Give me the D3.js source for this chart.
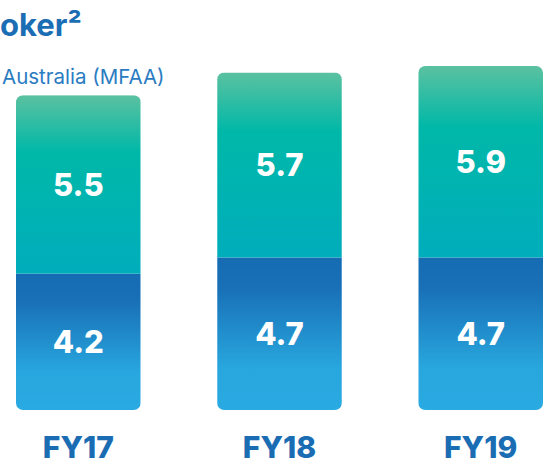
<!DOCTYPE html>
<html>
<head>
<meta charset="utf-8">
<script src="https://cdn.jsdelivr.net/npm/d3@7"></script>
<style>
  html, body { margin: 0; padding: 0; background: #ffffff; }
  svg { display: block; font-family: Inter, "Open Sans", sans-serif; }
</style>
</head>
<body>
<svg id="chart" width="544" height="465"></svg>
<script>
// ---- data ----
const categories = ["FY17", "FY18", "FY19"];
const lowerValues = [4.2, 4.7, 4.7];
const upperValues = [5.5, 5.7, 5.9];
const titleText = "oker\u00B2";
const subtitleText = "Australia (MFAA)";

// ---- layout ----
const baseY = 410, topY = 66;
const svg = d3.select("#chart");

const totals = categories.map((c, i) => lowerValues[i] + upperValues[i]);
const x = d3.scaleBand().domain(categories).range([16, 543]).paddingInner(0.38).paddingOuter(0);
const y = d3.scaleLinear().domain([0, d3.max(totals)]).range([baseY, topY]);

const defs = svg.append("defs");
const gUp = defs.append("linearGradient").attr("id", "gradUpper")
  .attr("x1", 0).attr("y1", 0).attr("x2", 0).attr("y2", 1);
[[0, "#5bc1a0"], [0.32, "#00b8a8"], [1, "#00adbc"]].forEach(([o, c]) =>
  gUp.append("stop").attr("offset", o).attr("stop-color", c));
const gLo = defs.append("linearGradient").attr("id", "gradLower")
  .attr("x1", 0).attr("y1", 0).attr("x2", 0).attr("y2", 1);
[[0, "#166cb3"], [0.2, "#1970b6"], [0.72, "#28a6de"], [1, "#2aaae2"]].forEach(([o, c]) =>
  gLo.append("stop").attr("offset", o).attr("stop-color", c));

categories.forEach((c, i) => {
  defs.append("clipPath").attr("id", "clip" + i)
    .append("rect")
    .attr("x", x(c)).attr("y", y(totals[i]))
    .attr("width", x.bandwidth()).attr("height", y(0) - y(totals[i]))
    .attr("rx", 7).attr("ry", 7);
});

const bars = svg.append("g").selectAll("g").data(categories).join("g")
  .attr("clip-path", (d, i) => `url(#clip${i})`);

bars.append("rect")
  .attr("x", d => x(d))
  .attr("y", (d, i) => y(lowerValues[i]))
  .attr("width", x.bandwidth())
  .attr("height", (d, i) => y(0) - y(lowerValues[i]))
  .attr("fill", "url(#gradLower)");

bars.append("rect")
  .attr("x", d => x(d))
  .attr("y", (d, i) => y(totals[i]))
  .attr("width", x.bandwidth())
  .attr("height", (d, i) => y(lowerValues[i]) - y(totals[i]))
  .attr("fill", "url(#gradUpper)");

// value labels
const labels = svg.append("g").attr("font-weight", 800).attr("font-size", 31)
  .attr("fill", "#ffffff").attr("text-anchor", "middle");
categories.forEach((c, i) => {
  labels.append("text")
    .attr("x", x(c) + x.bandwidth() / 2)
    .attr("y", (y(0) + y(lowerValues[i])) / 2)
    .attr("dy", "0.36em")
    .text(lowerValues[i].toFixed(1));
  labels.append("text")
    .attr("x", x(c) + x.bandwidth() / 2)
    .attr("y", (y(lowerValues[i]) + y(totals[i])) / 2)
    .attr("dy", "0.36em")
    .text(upperValues[i].toFixed(1));
});

// category axis labels
const xAxis = d3.axisBottom(x).tickSize(0).tickPadding(0);
const ax = svg.append("g").attr("transform", `translate(0,${baseY})`).call(xAxis);
ax.select(".domain").remove();
ax.selectAll("text")
  .attr("y", 48)
  .attr("dy", 0)
  .attr("font-family", "Inter, 'Open Sans', sans-serif")
  .attr("font-size", 30)
  .attr("font-weight", 800)
  .attr("fill", "#1a6db3");

// title & subtitle (cropped in the reference)
svg.append("text").attr("x", 0).attr("y", 36)
  .attr("font-size", 31).attr("font-weight", 700).attr("fill", "#1b6db4")
  .text(titleText);
svg.append("text").attr("x", 2).attr("y", 84)
  .attr("font-size", 20.5).attr("font-weight", 400).attr("fill", "#2a7cc2")
  .text(subtitleText);
</script>
</body>
</html>
